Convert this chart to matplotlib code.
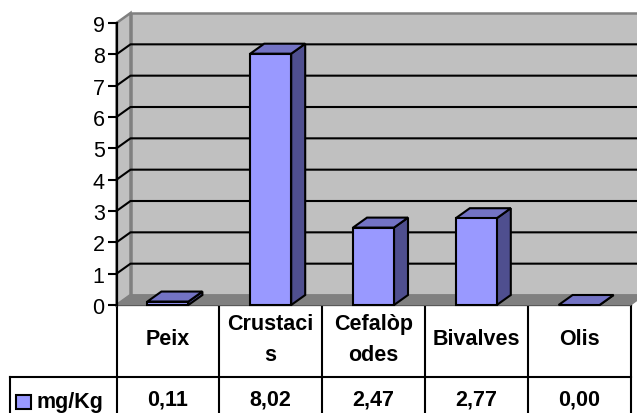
import matplotlib
matplotlib.use("Agg")
import matplotlib.pyplot as plt
from matplotlib.patches import Polygon

plt.rcParams['font.family'] = ['Liberation Sans', 'DejaVu Sans']

categories = ["Peix", "Crustaci\ns", "Cefalòp\nodes", "Bivalves", "Olis"]
values = [0.11, 8.02, 2.47, 2.77, 0.00]
value_labels = ["0,11", "8,02", "2,47", "2,77", "0,00"]
series_name = "mg/Kg"
y_ticks = list(range(10))

W, H = 637, 414
fig = plt.figure(figsize=(W / 100, H / 100), dpi=100)

# pixel layer for the table under the plot
bg = fig.add_axes([0, 0, 1, 1])
bg.set_xlim(0, W)
bg.set_ylim(H, 0)
bg.axis("off")

left, right, top, bottom = 116.5, 630.5, 24, 306
ax = fig.add_axes([left / W, 1 - bottom / H, (right - left) / W, (bottom - top) / H])
ax.set_xlim(-0.5, 4.5)
ax.set_ylim(0, 9)
ax.patch.set_visible(False)
for s in ax.spines.values():
    s.set_visible(False)

# depth of the fake 3d, in data units
dx = 14 / ((right - left) / 5)
dy = 10 / ((bottom - top) / 9)
bar_w = 41 / ((right - left) / 5)
EDGE = "#000000"


def poly(pts, fc, ec=EDGE, lw=1.5, z=1):
    ax.add_patch(Polygon(pts, closed=True, fc=fc, ec=ec, lw=lw, zorder=z,
                         clip_on=False, joinstyle="miter"))


x0, x1 = -0.5, 4.5
# walls and floor
poly([(x0 + dx, dy), (x1 + dx, dy), (x1 + dx, 9 + dy), (x0 + dx, 9 + dy)], "#c0c0c0", "#808080", 1.8, 1)
poly([(x0, 0), (x0 + dx, dy), (x0 + dx, 9 + dy), (x0, 9)], "#c0c0c0", "#808080", 1.8, 1)
poly([(x0, 0), (x0 + dx, dy), (x1 + dx, dy), (x1, 0)], "#808080", "#808080", 1, 2)

# gridlines run round the side wall and along the back
for t in y_ticks[1:-1]:
    ax.plot([x0, x0 + dx, x1 + dx], [t, t + dy, t + dy], color="black", lw=1.5, zorder=3, clip_on=False)

for i, v in enumerate(values):
    a, b = i - bar_w / 2, i + bar_w / 2
    poly([(b, 0), (b + dx, dy), (b + dx, v + dy), (b, v)], "#4f4f8f", z=5)
    poly([(a, v), (b, v), (b + dx, v + dy), (a + dx, v + dy)], "#7373c4", z=5)
    if v > 0:
        poly([(a, 0), (b, 0), (b, v), (a, v)], "#9999ff", z=6)

# value axis
ax.plot([x0, x0], [0, 9], color="black", lw=1.6, zorder=7, clip_on=False)
ax.set_xticks([])
ax.set_yticks(y_ticks)
ax.tick_params(axis="y", length=6.5, width=1.5, pad=2, labelsize=15.5, color="black")

# table
col_x = [left + (right - left) * i / 5 for i in range(6)]
row_y = [306, 377.5, 417]
tbl_font = 15.5
for x in col_x:
    bg.plot([x, x], [row_y[0], row_y[2]], color="black", lw=1.5)
bg.plot([left, right], [row_y[0], row_y[0]], color="black", lw=1.6)
bg.plot([10, right], [row_y[1], row_y[1]], color="black", lw=1.5)
bg.plot([10, 10], [row_y[1], row_y[2]], color="black", lw=1.5)

for i, (c, l) in enumerate(zip(categories, value_labels)):
    cx = (col_x[i] + col_x[i + 1]) / 2
    bg.text(cx, 340, c, ha="center", va="center", fontsize=tbl_font, fontweight="bold", linespacing=1.65)
    bg.text(cx, 400, l, ha="center", va="center", fontsize=tbl_font, fontweight="bold")

# legend key and series name
bg.add_patch(Polygon([(16, 396), (30.5, 396), (30.5, 410.5), (16, 410.5)], closed=True, fc="#9999ff", ec="black", lw=1.5))
bg.text(36, 403, series_name, ha="left", va="center", fontsize=tbl_font, fontweight="bold")

fig.savefig("out.png", dpi=100)
